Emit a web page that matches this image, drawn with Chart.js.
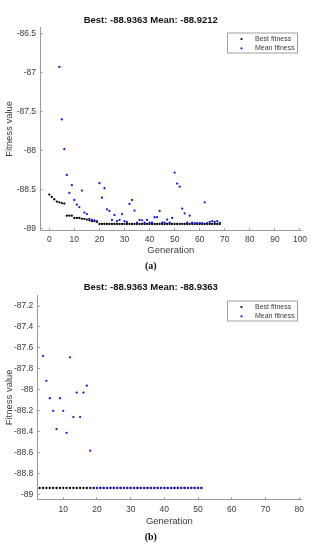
<!DOCTYPE html>
<html>
<head>
<meta charset="utf-8">
<script src="https://cdn.jsdelivr.net/npm/chart.js@4.4.1/dist/chart.umd.min.js"></script>
<style>
  html, body { margin: 0; padding: 0; background: #fff; }
  #wrap { position: relative; width: 315px; height: 550px; }
  canvas { position: absolute; left: 0; }
</style>
</head>
<body>
<div id="wrap">
  <canvas id="chartA" width="315" height="275" style="top:0"></canvas>
  <canvas id="chartB" width="315" height="280" style="top:270px"></canvas>
</div>
<script>
// (a) generations and fitness values
const gensA = [0, 1, 2, 3, 4, 5, 6, 7, 8, 9, 10, 11, 12, 13, 14, 15, 16, 17, 18, 19,
    20, 21, 22, 23, 24, 25, 26, 27, 28, 29, 30, 31, 32, 33, 34, 35, 36, 37, 38, 39,
    40, 41, 42, 43, 44, 45, 46, 47, 48, 49, 50, 51, 52, 53, 54, 55, 56, 57, 58, 59,
    60, 61, 62, 63, 64, 65, 66, 67, 68];
const bestA = [-88.56, -88.59, -88.62, -88.65, -88.66, -88.67, -88.675, -88.83, -88.83, -88.83,
    -88.86, -88.86, -88.86, -88.87, -88.87, -88.88, -88.89, -88.9, -88.9, -88.91,
    -88.9363, -88.9363, -88.9363, -88.9363, -88.9363, -88.9363, -88.9363, -88.9363, -88.9363, -88.9363,
    -88.9363, -88.9363, -88.9363, -88.9363, -88.9363, -88.9363, -88.9363, -88.9363, -88.9363, -88.9363,
    -88.9363, -88.9363, -88.9363, -88.9363, -88.9363, -88.9363, -88.9363, -88.9363, -88.9363, -88.9363,
    -88.9363, -88.9363, -88.9363, -88.9363, -88.9363, -88.9363, -88.9363, -88.9363, -88.9363, -88.9363,
    -88.9363, -88.9363, -88.9363, -88.9363, -88.9363, -88.9363, -88.9363, -88.9363, -88.9363];
const meanA = [null, null, null, null, -86.93, -87.6, -87.98, -88.31, -88.54, -88.44,
    -88.63, -88.69, -88.72, -88.51, -88.79, -88.81, -88.87, -88.885, -88.89, -88.9,
    -88.415, -88.6, -88.48, -88.75, -88.77, -88.885, -88.82, -88.9, -88.885, -88.81,
    -88.9, -88.91, -88.68, -88.63, -88.765, -88.92, -88.885, -88.89, -88.92, -88.885,
    -88.92, -88.92, -88.85, -88.85, -88.77, -88.92, -88.92, -88.88, -88.92, -88.86,
    -88.28, -88.42, -88.46, -88.74, -88.8, -88.92, -88.83, -88.92, -88.925, -88.925,
    -88.925, -88.925, -88.66, -88.925, -88.91, -88.9, -88.91, -88.9, -88.9212];
const xTicksA = [0, 10, 20, 30, 40, 50, 60, 70, 80, 90, 100];
const yTicksA = [-89, -88.5, -88, -87.5, -87, -86.5];

// (b)
const gensB = [3, 4, 5, 6, 7, 8, 9, 10, 11, 12, 13, 14, 15, 16, 17, 18, 19,
    20, 21, 22, 23, 24, 25, 26, 27, 28, 29, 30, 31, 32, 33, 34, 35, 36, 37, 38, 39,
    40, 41, 42, 43, 44, 45, 46, 47, 48, 49, 50, 51];
const bestB = [-88.9363, -88.9363, -88.9363, -88.9363, -88.9363, -88.9363, -88.9363, -88.9363, -88.9363, -88.9363,
    -88.9363, -88.9363, -88.9363, -88.9363, -88.9363, -88.9363, -88.9363, -88.9363, -88.9363, -88.9363,
    -88.9363, -88.9363, -88.9363, -88.9363, -88.9363, -88.9363, -88.9363, -88.9363, -88.9363, -88.9363,
    -88.9363, -88.9363, -88.9363, -88.9363, -88.9363, -88.9363, -88.9363, -88.9363, -88.9363, -88.9363,
    -88.9363, -88.9363, -88.9363, -88.9363, -88.9363, -88.9363, -88.9363, -88.9363, -88.9363];
const meanB = [null, -87.676, -87.914, -88.08, -88.2, -88.375, -88.08, -88.2, -88.41, -87.69,
    -88.26, -88.026, -88.26, -88.026, -87.96, -88.58, -88.9363, -88.9363, -88.9363, -88.9363,
    -88.9363, -88.9363, -88.9363, -88.9363, -88.9363, -88.9363, -88.9363, -88.9363, -88.9363, -88.9363,
    -88.9363, -88.9363, -88.9363, -88.9363, -88.9363, -88.9363, -88.9363, -88.9363, -88.9363, -88.9363,
    -88.9363, -88.9363, -88.9363, -88.9363, -88.9363, -88.9363, -88.9363, -88.9363, -88.9363];
const xTicksB = [10, 20, 30, 40, 50, 60, 70, 80];
const yTicksB = [-89, -88.8, -88.6, -88.4, -88.2, -88, -87.8, -87.6, -87.4, -87.2];

const seriesLabels = ['Best fitness', 'Mean fitness'];
const AXIS = '#9a9a9a';
const TXT = '#3a3a3a';
const SANS = '"Liberation Sans", Arial, sans-serif';

// legend box in the top right corner of the axes, like MATLAB
const boxLegend = {
    id: 'boxLegend',
    afterDraw(chart) {
        const ctx = chart.ctx;
        const a = chart.chartArea;
        const w = 71, h = 21;
        const x = a.right - 3.5 - w, y = a.top + 5.5;
        ctx.save();
        ctx.fillStyle = '#fff';
        ctx.fillRect(x, y, w, h);
        ctx.strokeStyle = '#a0a0a0';
        ctx.lineWidth = 1;
        ctx.strokeRect(x + 0.5, y + 0.5, w - 1, h - 1);
        ctx.font = '7px ' + SANS;
        ctx.textBaseline = 'middle';
        chart.data.datasets.forEach((ds, i) => {
            const cy = y + 6.5 + i * 9.3;
            ctx.fillStyle = ds.backgroundColor;
            ctx.beginPath();
            ctx.arc(x + 14.5, cy, 1.1, 0, Math.PI * 2);
            ctx.fill();
            ctx.fillStyle = TXT;
            ctx.fillText(ds.label, x + 28, cy);
        });
        ctx.restore();
    }
};

function makeChart(id, gens, best, mean, xTicks, yTicks, o) {
    const toPts = arr => gens.map((g, i) => ({ x: g, y: arr[i] }));
    return new Chart(document.getElementById(id).getContext('2d'), {
        type: 'scatter',
        data: {
            datasets: [
                {
                    label: seriesLabels[0],
                    data: toPts(best),
                    backgroundColor: '#000000',
                    borderColor: '#000000',
                    pointRadius: 1.15,
                    borderWidth: 0,
                    order: 2
                },
                {
                    label: seriesLabels[1],
                    data: toPts(mean),
                    backgroundColor: '#1c1cc8',
                    borderColor: '#1c1cc8',
                    pointRadius: 1.15,
                    borderWidth: 0,
                    order: 1
                }
            ]
        },
        options: {
            responsive: false,
            animation: false,
            devicePixelRatio: 1,
            layout: { padding: { left: 0, right: o.padRight, top: 0, bottom: 0 } },
            plugins: {
                legend: { display: false },
                tooltip: { enabled: false },
                title: {
                    display: true,
                    text: o.title,
                    color: '#111',
                    font: { family: SANS, size: 9.5, weight: 'bold' },
                    padding: { top: o.titleTop, bottom: o.titleBottom }
                },
                subtitle: {
                    display: true,
                    position: 'bottom',
                    text: o.caption,
                    color: '#111',
                    font: { family: '"Liberation Serif", "Times New Roman", serif', size: 10, weight: 'bold' },
                    padding: { top: 1.5, bottom: o.capBottom }
                }
            },
            scales: {
                x: {
                    type: 'linear',
                    min: o.xMin,
                    max: o.xMax,
                    afterBuildTicks: s => { s.ticks = xTicks.map(v => ({ value: v })); },
                    afterFit: s => { s.height = o.xHeight; },
                    border: { display: true, color: AXIS, width: 1 },
                    grid: { display: true, drawOnChartArea: false, drawTicks: true, tickLength: -2.5, color: AXIS },
                    ticks: {
                        color: TXT,
                        padding: o.xPad + 2.5,
                        maxRotation: 0,
                        callback: v => String(v),
                        font: { family: SANS, size: 8.5 }
                    },
                    title: {
                        display: true,
                        text: 'Generation',
                        color: TXT,
                        font: { family: SANS, size: 9.5 },
                        padding: { top: 0, bottom: 2.9 }
                    }
                },
                y: {
                    type: 'linear',
                    min: o.yMin,
                    max: o.yMax,
                    afterBuildTicks: s => { s.ticks = yTicks.map(v => ({ value: v })); },
                    afterFit: s => { s.width = o.yWidth; },
                    border: { display: true, color: AXIS, width: 1 },
                    grid: { display: true, drawOnChartArea: false, drawTicks: true, tickLength: -2.5, color: AXIS },
                    ticks: {
                        color: TXT,
                        padding: 4 + 2.5,
                        callback: v => String(v),
                        font: { family: SANS, size: 8.5 }
                    },
                    title: {
                        display: true,
                        text: 'Fitness value',
                        color: TXT,
                        font: { family: SANS, size: 9.5 },
                        padding: { top: 3.5, bottom: 0 }
                    }
                }
            }
        },
        plugins: [boxLegend]
    });
}

makeChart('chartA', gensA, bestA, meanA, xTicksA, yTicksA, {
    title: 'Best: -88.9363 Mean: -88.9212',
    caption: '(a)',
    xMin: -3.7, xMax: 100.6,
    yMin: -89.022, yMax: -86.42,
    padRight: 13.5,
    yWidth: 40,
    xHeight: 28.6,
    xPad: 4,
    titleTop: 14.3, titleBottom: 1.3,
    capBottom: 2.2
});

makeChart('chartB', gensB, bestB, meanB, xTicksB, yTicksB, {
    title: 'Best: -88.9363 Mean: -88.9363',
    caption: '(b)',
    xMin: 2.3, xMax: 80.7,
    yMin: -89.048, yMax: -87.095,
    padRight: 13.5,
    yWidth: 37.3,
    xHeight: 30.6,
    xPad: 5,
    titleTop: 11.3, titleBottom: 2.3,
    capBottom: 6.2
});
</script>
</body>
</html>
